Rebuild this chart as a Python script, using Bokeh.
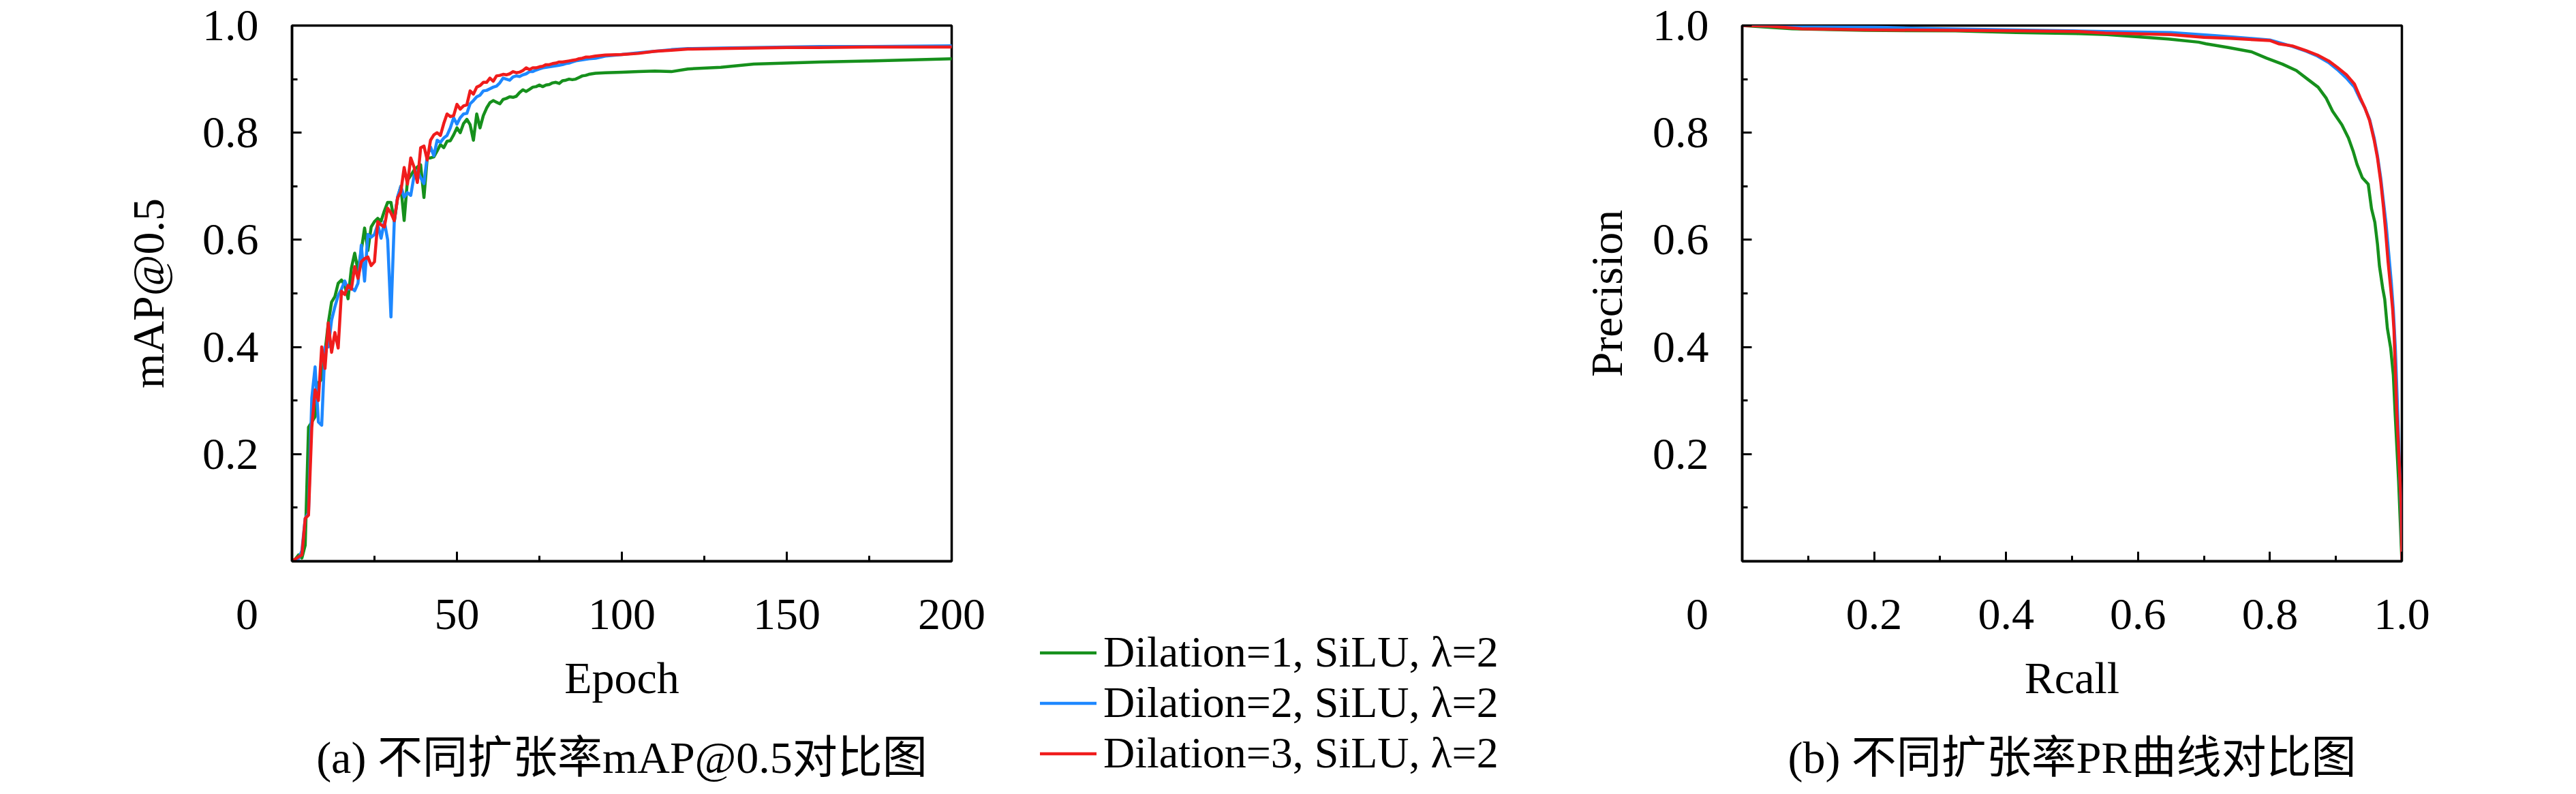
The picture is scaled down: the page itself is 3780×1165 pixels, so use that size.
from bokeh.plotting import figure
from bokeh.models import Range1d, FixedTicker, Legend, LegendItem, LinearAxis
from bokeh.layouts import row
from bokeh.embed import file_html
from bokeh.resources import INLINE

# ---------------- data: mAP@0.5 vs epoch ----------------
epoch = list(range(0, 91)) + [92, 95, 100, 105, 110, 115, 120, 130, 140, 150, 160, 175, 200]

map_d1 = [0.0, 0.004, 0.012, 0.006, 0.03, 0.25, 0.26, 0.27, 0.333, 0.34,
          0.39, 0.445, 0.484, 0.494, 0.519, 0.525, 0.515, 0.49, 0.547, 0.575,
          0.543, 0.58, 0.622, 0.58, 0.624, 0.634, 0.64, 0.635, 0.654, 0.67,
          0.67, 0.634, 0.678, 0.70, 0.636, 0.711, 0.72, 0.73, 0.736, 0.74,
          0.679, 0.753, 0.753, 0.755, 0.766, 0.778, 0.772, 0.784, 0.785, 0.796,
          0.809, 0.80, 0.817, 0.825, 0.815, 0.786, 0.835, 0.809, 0.832, 0.846,
          0.856, 0.86, 0.857, 0.854, 0.862, 0.864, 0.867, 0.866, 0.868, 0.875,
          0.88, 0.877, 0.881, 0.885, 0.886, 0.889, 0.886, 0.889, 0.89, 0.893,
          0.894, 0.892, 0.897, 0.898, 0.90, 0.899, 0.90, 0.903, 0.906, 0.907,
          0.909,
          0.911, 0.912, 0.913, 0.914, 0.915, 0.914, 0.919, 0.922, 0.928, 0.93, 0.932, 0.934, 0.938]

map_d2 = [0.0, 0.003, 0.005, 0.02, 0.08, 0.09, 0.305, 0.363, 0.26, 0.254,
          0.40, 0.40, 0.45, 0.475, 0.496, 0.508, 0.523, 0.508, 0.51, 0.505,
          0.519, 0.59, 0.523, 0.61, 0.605, 0.61, 0.629, 0.603, 0.634, 0.60,
          0.456, 0.634, 0.68, 0.70, 0.68, 0.688, 0.683, 0.72, 0.728, 0.716,
          0.705, 0.757, 0.773, 0.757, 0.786, 0.782, 0.79, 0.795, 0.809, 0.828,
          0.816, 0.828, 0.835, 0.836, 0.854, 0.86, 0.867, 0.87, 0.878, 0.879,
          0.882, 0.885, 0.887, 0.893, 0.902, 0.90, 0.898, 0.904, 0.906, 0.905,
          0.908, 0.91, 0.914, 0.914, 0.917, 0.919, 0.921, 0.922, 0.923, 0.924,
          0.925, 0.926, 0.927, 0.929, 0.93, 0.932, 0.934, 0.935, 0.936, 0.937,
          0.938,
          0.939, 0.943, 0.946, 0.949, 0.952, 0.955, 0.957, 0.958, 0.959, 0.960, 0.961, 0.961, 0.962]

map_d3 = [0.0, 0.004, 0.008, 0.012, 0.08, 0.086, 0.25, 0.32, 0.30, 0.40,
          0.36, 0.445, 0.39, 0.427, 0.398, 0.504, 0.498, 0.515, 0.508, 0.55,
          0.528, 0.559, 0.565, 0.568, 0.552, 0.559, 0.634, 0.628, 0.624, 0.659,
          0.65, 0.636, 0.678, 0.69, 0.735, 0.704, 0.753, 0.736, 0.707, 0.772,
          0.775, 0.749, 0.786, 0.796, 0.80, 0.795, 0.817, 0.835, 0.83, 0.832,
          0.853, 0.844, 0.85, 0.852, 0.878, 0.872, 0.885, 0.888, 0.894, 0.894,
          0.902, 0.896, 0.906, 0.907, 0.909, 0.908, 0.91, 0.914, 0.912, 0.913,
          0.916, 0.921, 0.918, 0.921, 0.921, 0.923, 0.924, 0.927, 0.927, 0.929,
          0.93, 0.932, 0.932, 0.933, 0.934, 0.935, 0.936, 0.938, 0.939, 0.941,
          0.941,
          0.943, 0.945, 0.946, 0.948, 0.952, 0.954, 0.956, 0.957, 0.958, 0.959, 0.959, 0.960, 0.960]

# ---------------- data: precision-recall ----------------
rec_d1 = [0.0, 0.076, 0.185, 0.323, 0.415, 0.46, 0.507, 0.553, 0.60, 0.646,
          0.692, 0.703, 0.737, 0.772, 0.795, 0.819, 0.840, 0.857, 0.873, 0.885,
          0.895, 0.909, 0.919, 0.926, 0.932, 0.940, 0.949, 0.954, 0.959, 0.963,
          0.966, 0.971, 0.974, 0.978, 0.983, 0.987, 0.990, 0.995, 1.0]
prec_d1 = [1.0, 0.994, 0.991, 0.990, 0.987, 0.986, 0.985, 0.983, 0.979, 0.975,
           0.969, 0.966, 0.959, 0.951, 0.939, 0.928, 0.916, 0.900, 0.885, 0.865,
           0.840, 0.815, 0.790, 0.766, 0.741, 0.716, 0.704, 0.658, 0.633, 0.592,
           0.551, 0.509, 0.489, 0.435, 0.398, 0.348, 0.27, 0.15, 0.0]

rec_d2 = [0.0, 0.09, 0.2, 0.3, 0.4, 0.5, 0.55, 0.65, 0.72, 0.80,
          0.834, 0.855, 0.872, 0.889, 0.902, 0.916, 0.928, 0.937, 0.944, 0.951,
          0.958, 0.963, 0.968, 0.972, 0.976, 0.980, 0.984, 0.987, 0.990, 0.993,
          0.996, 0.999, 1.0]
prec_d2 = [1.0, 0.998, 0.997, 0.994, 0.992, 0.990, 0.989, 0.987, 0.981, 0.973,
           0.961, 0.952, 0.943, 0.931, 0.918, 0.902, 0.885, 0.862, 0.846, 0.825,
           0.790, 0.757, 0.715, 0.672, 0.63, 0.575, 0.52, 0.47, 0.40, 0.30,
           0.19, 0.09, 0.0]

rec_d3 = [0.0, 0.04, 0.09, 0.19, 0.32, 0.42, 0.51, 0.55, 0.65, 0.70,
          0.74, 0.80, 0.813, 0.834, 0.855, 0.872, 0.889, 0.902, 0.916, 0.928,
          0.937, 0.944, 0.951, 0.958, 0.963, 0.968, 0.972, 0.975, 0.979, 0.983,
          0.986, 0.988, 0.992, 0.996, 0.999, 1.0]
prec_d3 = [1.0, 0.999, 0.994, 0.992, 0.991, 0.990, 0.989, 0.986, 0.983, 0.978,
           0.976, 0.972, 0.966, 0.962, 0.953, 0.945, 0.934, 0.922, 0.908, 0.891,
           0.865, 0.846, 0.823, 0.786, 0.753, 0.708, 0.662, 0.621, 0.560, 0.51,
           0.47, 0.431, 0.286, 0.183, 0.10, 0.0]

series_names = ["Dilation=1, SiLU, \u03bb=2", "Dilation=2, SiLU, \u03bb=2", "Dilation=3, SiLU, \u03bb=2"]
series_colors = ["#16901c", "#1e88ff", "#f01c1c"]

map_xticks = [0, 50, 100, 150, 200]
map_xminor = [25, 75, 125, 175]
map_xlabels = ["0", "50", "100", "150", "200"]
pr_xticks = [0.0, 0.2, 0.4, 0.6, 0.8, 1.0]
pr_xminor = [0.1, 0.3, 0.5, 0.7, 0.9]
pr_xlabels = ["0", "0.2", "0.4", "0.6", "0.8", "1.0"]
yticks = [0.2, 0.4, 0.6, 0.8, 1.0]
yminor = [0.1, 0.3, 0.5, 0.7, 0.9]
ylabels = ["0.2", "0.4", "0.6", "0.8", "1.0"]

captions = ["(a) 不同扩张率mAP@0.5对比图", "(b) 不同扩张率PR曲线对比图"]

FONT = "'Liberation Serif', 'Noto Sans CJK SC'"
FS = "66px"
NBSP = "\u00a0"


def corner(s):
    # the shared origin label sits left of the corner, as in the original
    return s + NBSP * 8 if s == "0" else s


def bare_axis(**kw):
    return LinearAxis(ticker=FixedTicker(ticks=[]),
                      axis_line_color=None, major_tick_line_color=None, minor_tick_line_color=None,
                      major_tick_in=0, major_tick_out=0, minor_tick_in=0, minor_tick_out=0,
                      major_label_standoff=0, axis_label_text_font=FONT,
                      axis_label_text_font_style="normal", axis_label_text_color="black", **kw)


def style(p, xt, xm, xlab, xtitle, ytitle, ylabel_standoff, caption):
    p.xgrid.visible = False
    p.ygrid.visible = False
    p.outline_line_color = "black"
    p.outline_line_width = 3.5
    p.outline_line_alpha = 1.0
    p.background_fill_color = "white"
    p.border_fill_color = None
    p.xaxis.ticker = FixedTicker(ticks=xt, minor_ticks=xm)
    p.yaxis.ticker = FixedTicker(ticks=yticks, minor_ticks=yminor)
    p.xaxis.major_label_overrides = {v: corner(s) for v, s in zip(xt, xlab)}
    p.yaxis.major_label_overrides = {v: s for v, s in zip(yticks, ylabels)}
    for ax in (p.xaxis[0], p.yaxis[0]):
        ax.axis_line_width = 3.5
        ax.axis_line_color = "black"
        ax.major_tick_line_width = 3
        ax.minor_tick_line_width = 3
        ax.major_tick_in = 14
        ax.major_tick_out = 0
        ax.minor_tick_in = 8
        ax.minor_tick_out = 0
        ax.major_label_text_font = FONT
        ax.major_label_text_font_size = FS
        ax.major_label_text_color = "black"
        ax.axis_label_text_font = FONT
        ax.axis_label_text_font_size = FS
        ax.axis_label_text_font_style = "normal"
        ax.axis_label_text_color = "black"
    p.xaxis.axis_label = xtitle
    p.yaxis.axis_label = ytitle
    p.xaxis.major_label_standoff = 40
    p.xaxis.axis_label_standoff = 18
    p.yaxis.major_label_standoff = 49
    p.yaxis.axis_label_standoff = ylabel_standoff
    # caption: label of a bare axis stacked under the x axis
    p.add_layout(bare_axis(axis_label=caption, axis_label_standoff=41, axis_label_text_font_size=FS), "below")


# ---------------- left: mAP (legend sits in its right margin) ----------------
pa = figure(frame_width=968, frame_height=786,
            min_border_left=428, min_border_right=904, min_border_top=37, min_border_bottom=326,
            x_range=Range1d(0, 200), y_range=Range1d(0, 1),
            output_backend="svg", toolbar_location=None)
style(pa, map_xticks, map_xminor, map_xlabels, "Epoch", "mAP@0.5", 40, captions[0])

rends = []
for ys, c in zip([map_d1, map_d2, map_d3], series_colors):
    rends.append(pa.line(epoch, ys, line_color=c, line_width=4.5, line_join="round", line_cap="round"))

legend = Legend(items=[LegendItem(label=n, renderers=[r]) for n, r in zip(series_names, rends)],
                location=(130, -319), orientation="vertical",
                label_text_font=FONT, label_text_font_size="64px", label_text_color="black",
                label_height=71, glyph_height=71, glyph_width=83, label_standoff=10,
                spacing=0, padding=0, margin=0,
                border_line_color=None, background_fill_alpha=0)
pa.add_layout(legend, "right")

# ---------------- right: PR ----------------
pb = figure(frame_width=968, frame_height=786,
            min_border_left=260, min_border_right=244, min_border_top=37, min_border_bottom=326,
            x_range=Range1d(0, 1), y_range=Range1d(0, 1),
            output_backend="svg", toolbar_location=None)
style(pb, pr_xticks, pr_xminor, pr_xlabels, "Rcall", "Precision", 28, captions[1])
# the legend column widens the left figure's margin; pull the right figure back into place
pb.margin = (0, 0, 0, -190)

for xs, ys, c in zip([rec_d1, rec_d2, rec_d3], [prec_d1, prec_d2, prec_d3], series_colors):
    pb.line(xs, ys, line_color=c, line_width=4.5, line_join="round", line_cap="round")

layout = row(pa, pb, spacing=0)
open("out.html", "w").write(file_html(layout, INLINE))
